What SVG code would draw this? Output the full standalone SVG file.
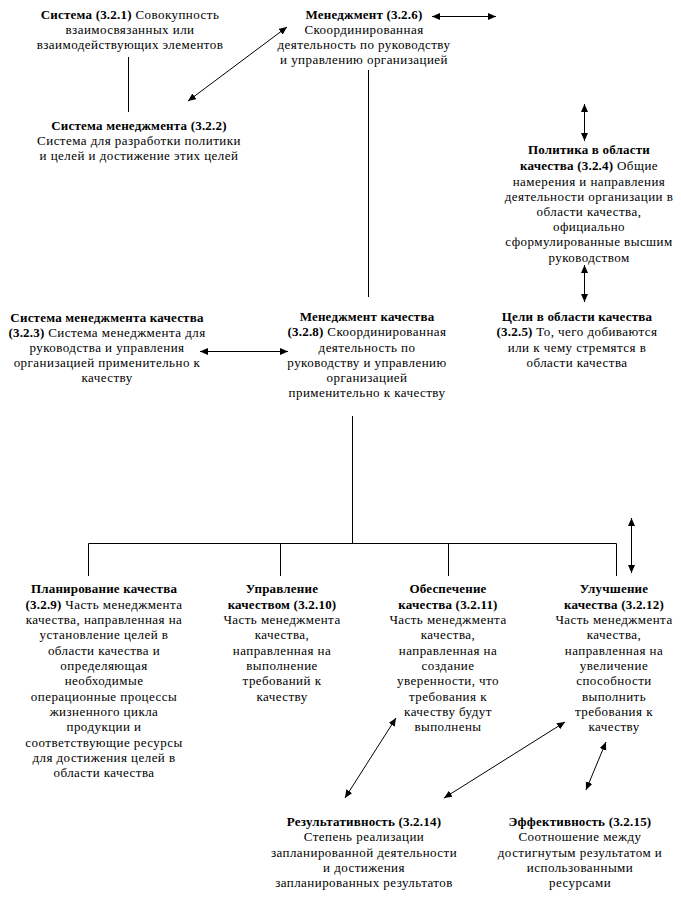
<svg xmlns="http://www.w3.org/2000/svg" width="681" height="897" viewBox="0 0 681 897">
<defs>
<marker id="ah" markerUnits="userSpaceOnUse" markerWidth="9" markerHeight="8" refX="8" refY="3.5" orient="auto-start-reverse">
<path d="M0,0 L8,3.5 L0,7 z" fill="#000"/>
</marker>
<style>
text{font-family:"Liberation Serif","Times New Roman","DejaVu Serif",serif;font-size:13px;letter-spacing:0.45px;fill:#000;text-anchor:middle}
.b{font-weight:bold;letter-spacing:0.2px}
.ln{stroke:#000;stroke-width:1;fill:none}
.ar{stroke:#000;stroke-width:1;fill:none;marker-start:url(#ah);marker-end:url(#ah)}
</style>
</defs>
<rect width="681" height="897" fill="#fff"/>
<g id="connectors">
<line class="ln" x1="128.5" y1="57" x2="128.5" y2="112"/>
<line class="ar" x1="188" y1="101" x2="287" y2="27"/>
<line class="ar" x1="432" y1="16.5" x2="496" y2="16.5"/>
<line class="ln" x1="368.5" y1="70" x2="368.5" y2="297"/>
<line class="ar" x1="584.5" y1="104" x2="584.5" y2="141"/>
<line class="ar" x1="584.5" y1="265" x2="584.5" y2="302"/>
<line class="ar" x1="200" y1="351.5" x2="288" y2="351.5"/>
<line class="ln" x1="352.5" y1="416" x2="352.5" y2="544"/>
<polyline class="ln" points="88.5,576 88.5,543.5 616.5,543.5 616.5,576"/>
<line class="ln" x1="280.5" y1="543.5" x2="280.5" y2="576"/>
<line class="ln" x1="448.5" y1="543.5" x2="448.5" y2="576"/>
<line class="ar" x1="631.5" y1="518" x2="631.5" y2="573"/>
<line class="ar" x1="396" y1="718" x2="345" y2="798"/>
<line class="ar" x1="565" y1="722" x2="444" y2="798"/>
<line class="ar" x1="606" y1="742" x2="586" y2="790"/>
</g>
<g font-family="Liberation Serif, Times New Roman, serif">
<g id="n321">
<text x="130" y="19"><tspan class="b">Система (3.2.1)</tspan> Совокупность</text>
<text x="130" y="34">взаимосвязанных или</text>
<text x="130" y="49">взаимодействующих элементов</text>
</g>
<g id="n322">
<text x="139" y="130" class="b">Система менеджмента (3.2.2)</text>
<text x="139" y="145">Система для разработки политики</text>
<text x="139" y="160">и целей и достижение этих целей</text>
</g>
<g id="n326">
<text x="364" y="19" class="b">Менеджмент (3.2.6)</text>
<text x="364" y="34">Скоординированная</text>
<text x="364" y="49">деятельность по руководству</text>
<text x="364" y="64">и управлению организацией</text>
</g>
<g id="n324">
<text x="589" y="154" class="b">Политика в области</text>
<text x="589" y="170"><tspan class="b">качества (3.2.4)</tspan>  Общие</text>
<text x="589" y="186">намерения и направления</text>
<text x="589" y="201">деятельности организации в</text>
<text x="589" y="216">области качества,</text>
<text x="589" y="231">официально</text>
<text x="589" y="246">сформулированные высшим</text>
<text x="589" y="262">руководством</text>
</g>
<g id="n323">
<text x="107" y="322" class="b">Система менеджмента качества</text>
<text x="107" y="337"><tspan class="b">(3.2.3)</tspan> Система менеджмента для</text>
<text x="107" y="352">руководства и управления</text>
<text x="107" y="367">организацией применительно к</text>
<text x="107" y="382">качеству</text>
</g>
<g id="n328">
<text x="367" y="321" class="b">Менеджмент качества</text>
<text x="367" y="336"><tspan class="b">(3.2.8)</tspan> Скоординированная</text>
<text x="367" y="352">деятельность по</text>
<text x="367" y="367">руководству и управлению</text>
<text x="367" y="382">организацией</text>
<text x="367" y="397">применительно к качеству</text>
</g>
<g id="n325">
<text x="577" y="321" class="b">Цели в области качества</text>
<text x="577" y="336"><tspan class="b">(3.2.5)</tspan> То, чего добиваются</text>
<text x="577" y="352">или к чему стремятся в</text>
<text x="577" y="367">области качества</text>
</g>
<g id="n329">
<text x="104" y="593" class="b">Планирование качества</text>
<text x="104" y="609"><tspan class="b">(3.2.9)</tspan> Часть менеджмента</text>
<text x="104" y="624">качества, направленная на</text>
<text x="104" y="639">установление целей в</text>
<text x="104" y="655">области качества и</text>
<text x="104" y="670">определяющая</text>
<text x="104" y="685">необходимые</text>
<text x="104" y="701">операционные процессы</text>
<text x="104" y="716">жизненного цикла</text>
<text x="104" y="731">продукции и</text>
<text x="104" y="747">соответствующие ресурсы</text>
<text x="104" y="762">для достижения целей в</text>
<text x="104" y="777">области качества</text>
</g>
<g id="n3210">
<text x="282" y="593" class="b">Управление</text>
<text x="282" y="609" class="b">качеством (3.2.10)</text>
<text x="282" y="624">Часть менеджмента</text>
<text x="282" y="639">качества,</text>
<text x="282" y="655">направленная на</text>
<text x="282" y="670">выполнение</text>
<text x="282" y="685">требований к</text>
<text x="282" y="701">качеству</text>
</g>
<g id="n3211">
<text x="448" y="593" class="b">Обеспечение</text>
<text x="448" y="609" class="b">качества (3.2.11)</text>
<text x="448" y="624">Часть менеджмента</text>
<text x="448" y="639">качества,</text>
<text x="448" y="655">направленная на</text>
<text x="448" y="670">создание</text>
<text x="448" y="685">уверенности, что</text>
<text x="448" y="701">требования к</text>
<text x="448" y="716">качеству будут</text>
<text x="448" y="731">выполнены</text>
</g>
<g id="n3212">
<text x="614" y="593" class="b">Улучшение</text>
<text x="614" y="609" class="b">качества (3.2.12)</text>
<text x="614" y="624">Часть менеджмента</text>
<text x="614" y="639">качества,</text>
<text x="614" y="655">направленная на</text>
<text x="614" y="670">увеличение</text>
<text x="614" y="685">способности</text>
<text x="614" y="701">выполнить</text>
<text x="614" y="716">требования к</text>
<text x="614" y="731">качеству</text>
</g>
<g id="n3214">
<text x="364" y="826" class="b">Результативность (3.2.14)</text>
<text x="364" y="841">Степень реализации</text>
<text x="364" y="857">запланированной деятельности</text>
<text x="364" y="872">и достижения</text>
<text x="364" y="887">запланированных результатов</text>
</g>
<g id="n3215">
<text x="580" y="826" class="b">Эффективность (3.2.15)</text>
<text x="580" y="841">Соотношение между</text>
<text x="580" y="857">достигнутым результатом и</text>
<text x="580" y="872">использованными</text>
<text x="580" y="887">ресурсами</text>
</g>
</g>
</svg>
